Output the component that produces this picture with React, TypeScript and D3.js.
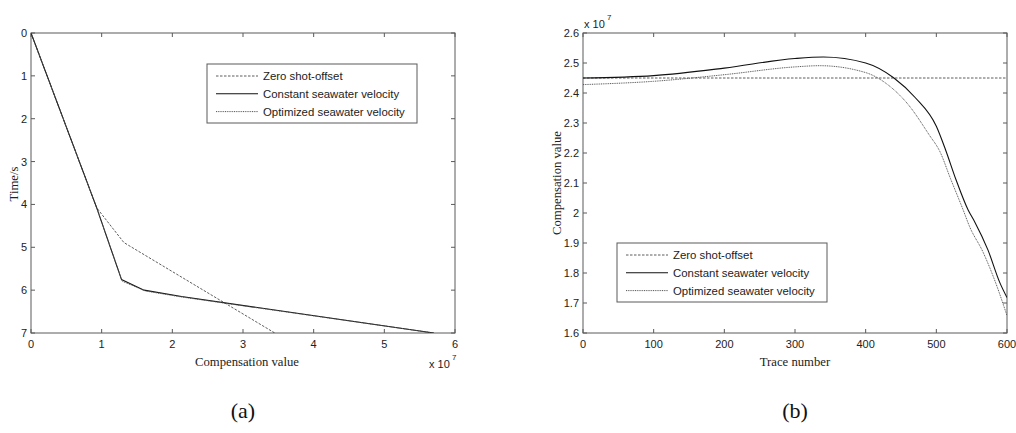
import React from "react";
import * as d3 from "d3";

// ---------- Data: panel (a) ----------
const aZeroX = [0, 0.93, 1.315, 3.45]; // x 1e7
const aZeroT = [0, 4.08, 4.89, 7.0];
const aConstX = [0, 0.93, 1.28, 1.6, 2.13, 5.7];
const aConstT = [0, 4.08, 5.75, 6.0, 6.15, 7.0];
const aOptX = [0, 0.93, 1.29, 1.62, 2.13, 5.7];
const aOptT = [0, 4.08, 5.79, 6.02, 6.16, 7.0];
const aXTicks = [0, 1, 2, 3, 4, 5, 6];
const aYTicks = [0, 1, 2, 3, 4, 5, 6, 7];

// ---------- Data: panel (b) ----------
const bZeroTrace = [0, 600];
const bZeroVal = [2.45, 2.45]; // x 1e7
const bConstTrace = [0, 100, 200, 300, 340, 400, 440, 470, 500, 513, 528, 545, 554, 573, 590, 600];
const bConstVal = [2.45, 2.458, 2.483, 2.515, 2.52, 2.5, 2.45, 2.385, 2.289, 2.211, 2.11, 2.01, 1.972, 1.877, 1.767, 1.718];
const bOptTrace = [0, 100, 200, 300, 335, 400, 430, 460, 490, 505, 520, 538, 547, 566, 584, 600];
const bOptVal = [2.428, 2.439, 2.461, 2.487, 2.491, 2.468, 2.43, 2.362, 2.26, 2.205, 2.115, 2.01, 1.955, 1.87, 1.767, 1.658];
const bXTicks = [0, 100, 200, 300, 400, 500, 600];
const bYTicks = [1.6, 1.7, 1.8, 1.9, 2.0, 2.1, 2.2, 2.3, 2.4, 2.5, 2.6];

const legendLabels = ["Zero shot-offset", "Constant seawater velocity", "Optimized seawater velocity"];

const SANS = "'Liberation Sans', Arial, Helvetica, sans-serif";
const SERIF = "'Liberation Serif', 'Times New Roman', serif";
const AXIS = "#5a5a5a";

const styles = [
  { stroke: "#333", dash: "2.5,1.5", width: 0.8 },
  { stroke: "#111", dash: undefined, width: 1.1 },
  { stroke: "#555", dash: "1,0.8", width: 1 },
];

type Pt = [number, number];

function zip(a: number[], b: number[]): Pt[] {
  return a.map((v, i) => [v, b[i]] as Pt);
}

function Frame({ x, y, xTicks, yTicks, xFmt, yFmt }: any) {
  const [x0, x1] = x.range();
  const [y0, y1] = [y.range()[0], y.range()[1]];
  const top = Math.min(y0, y1);
  const bot = Math.max(y0, y1);
  const tl = 4;
  return (
    <g>
      <rect x={x0} y={top} width={x1 - x0} height={bot - top} fill="#fff" stroke={AXIS} strokeWidth={1} />
      {xTicks.map((t: number) => (
        <g key={"x" + t}>
          <line x1={x(t)} x2={x(t)} y1={bot} y2={bot - tl} stroke={AXIS} />
          <line x1={x(t)} x2={x(t)} y1={top} y2={top + tl} stroke={AXIS} />
          <text x={x(t)} y={bot + 15} textAnchor="middle" fontFamily={SANS} fontSize={11} fill="#222">
            {xFmt(t)}
          </text>
        </g>
      ))}
      {yTicks.map((t: number) => (
        <g key={"y" + t}>
          <line x1={x0} x2={x0 + tl} y1={y(t)} y2={y(t)} stroke={AXIS} />
          <line x1={x1} x2={x1 - tl} y1={y(t)} y2={y(t)} stroke={AXIS} />
          <text x={x0 - 4} y={y(t) + 4} textAnchor="end" fontFamily={SANS} fontSize={11} fill="#222">
            {yFmt(t)}
          </text>
        </g>
      ))}
    </g>
  );
}

function Legend({ x, y, w, h }: any) {
  return (
    <g>
      <rect x={x} y={y} width={w} height={h} fill="#fff" stroke={AXIS} strokeWidth={1} />
      {legendLabels.map((l, i) => {
        const yy = y + 12 + i * 17.8;
        const s = styles[i];
        return (
          <g key={l}>
            <line x1={x + 9} x2={x + 51} y1={yy} y2={yy} stroke={s.stroke} strokeWidth={s.width} strokeDasharray={s.dash} />
            <text x={x + 56} y={yy + 4} fontFamily={SANS} fontSize={11.4} fill="#222">
              {l}
            </text>
          </g>
        );
      })}
    </g>
  );
}

export default function App() {
  // panel (a)
  const ax = d3.scaleLinear().domain([0, 6]).range([31, 455]);
  const ay = d3.scaleLinear().domain([0, 7]).range([33, 333]);
  const aLine = d3
    .line<Pt>()
    .x((d) => ax(d[0]))
    .y((d) => ay(d[1]));
  const aSeries = [zip(aZeroX, aZeroT), zip(aConstX, aConstT), zip(aOptX, aOptT)];

  // panel (b)
  const bx = d3.scaleLinear().domain([0, 600]).range([583, 1007]);
  const by = d3.scaleLinear().domain([1.6, 2.6]).range([333, 33]);
  const bLine = d3
    .line<Pt>()
    .x((d) => bx(d[0]))
    .y((d) => by(d[1]))
    .curve(d3.curveMonotoneX);
  const bSeries = [zip(bZeroTrace, bZeroVal), zip(bConstTrace, bConstVal), zip(bOptTrace, bOptVal)];

  return (
    <svg width={1016} height={433} style={{ position: "absolute", left: 0, top: 0, background: "#fff" }}>
      <rect x={0} y={0} width={1016} height={433} fill="#fff" />
      <defs>
        <clipPath id="clipA">
          <rect x={31} y={33} width={424} height={300} />
        </clipPath>
        <clipPath id="clipB">
          <rect x={583} y={33} width={424} height={300} />
        </clipPath>
      </defs>
      {/* Panel (a) */}
      <Frame x={ax} y={ay} xTicks={aXTicks} yTicks={aYTicks} xFmt={(t: number) => String(t)} yFmt={(t: number) => String(t)} />
      <g clipPath="url(#clipA)">
        {aSeries.map((s, i) => (
          <path key={i} d={aLine(s) || ""} fill="none" stroke={styles[i].stroke} strokeWidth={styles[i].width} strokeDasharray={styles[i].dash} strokeLinejoin="round" />
        ))}
      </g>
      <Legend x={207} y={64} w={210} h={59} />
      <text x={247} y={366} textAnchor="middle" fontFamily={SERIF} fontSize={12.7} fill="#222">
        Compensation value
      </text>
      <text transform="translate(18,184) rotate(-90)" textAnchor="middle" fontFamily={SERIF} fontSize={12.7} fill="#222">
        Time/s
      </text>
      <text x={429} y={368} fontFamily={SANS} fontSize={11} fill="#222">
        x 10
      </text>
      <text x={452} y={360} fontFamily={SANS} fontSize={8} fill="#222">
        7
      </text>
      <text x={243} y={418} textAnchor="middle" fontFamily={SERIF} fontSize={22} fill="#111">
        (a)
      </text>

      {/* Panel (b) */}
      <Frame x={bx} y={by} xTicks={bXTicks} yTicks={bYTicks} xFmt={(t: number) => String(t)} yFmt={(t: number) => (Math.abs(t - 2) < 1e-9 ? "2" : t.toFixed(1))} />
      <g clipPath="url(#clipB)">
        {bSeries.map((s, i) => (
          <path key={i} d={bLine(s) || ""} fill="none" stroke={styles[i].stroke} strokeWidth={styles[i].width} strokeDasharray={styles[i].dash} />
        ))}
      </g>
      <Legend x={617} y={243} w={210} h={59} />
      <text x={795} y={366} textAnchor="middle" fontFamily={SERIF} fontSize={12.7} fill="#222">
        Trace number
      </text>
      <text transform="translate(561,183) rotate(-90)" textAnchor="middle" fontFamily={SERIF} fontSize={12.7} fill="#222">
        Compensation value
      </text>
      <text x={584} y={28} fontFamily={SANS} fontSize={11} fill="#222">
        x 10
      </text>
      <text x={607} y={20} fontFamily={SANS} fontSize={8} fill="#222">
        7
      </text>
      <text x={795} y={418} textAnchor="middle" fontFamily={SERIF} fontSize={22} fill="#111">
        (b)
      </text>
    </svg>
  );
}
